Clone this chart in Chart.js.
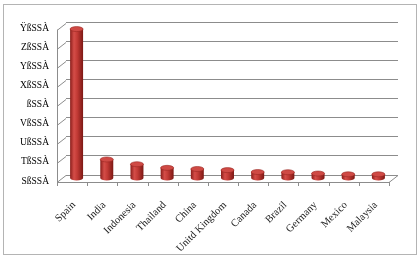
<!DOCTYPE html>
<html>
<head>
<meta charset="utf-8">
<script src="https://cdn.jsdelivr.net/npm/chart.js@4.4.1/dist/chart.umd.min.js"></script>
<style>
    html, body { margin: 0; padding: 0; background: #fff; }
    #wrap { width: 419px; height: 263px; }
</style>
</head>
<body>
<div id="wrap"><canvas id="chart" width="419" height="263"></canvas></div>
<script>
// Categories and values (percent share)
const countries = ["Spain", "India", "Indonesia", "Thailand", "China", "Unitd Kingdom",
    "Canada", "Brazil", "Germany", "Mexico", "Malaysia"];
const shares = [78.5, 10, 7.5, 5.6, 5.0, 4.4, 3.4, 3.3, 2.6, 2.2, 2.2];

// Y tick labels exactly as they appear (broken font mapping in the original)
const yTickLabels = ["SßSSÀ", "TßSSÀ", "UßSSÀ", "VßSSÀ", "ßSSÀ", "XßSSÀ", "YßSSÀ", "ZßSSÀ", "ŸßSSÀ"];

// Depth of the fake 3D walls
const depthX = 9;
const depthY = 7;

const gridColour = "#8c8c8c";

// Draws the frame, side wall, floor and the cylinder bars
const fake3d = {
    id: "fake3d",
    beforeDraw(chart) {
        const ctx = chart.ctx;
        ctx.save();
        ctx.fillStyle = "#fff";
        ctx.fillRect(0, 0, chart.width, chart.height);
        ctx.strokeStyle = "#b4b4b4";
        ctx.lineWidth = 1;
        ctx.strokeRect(3.5, 4.5, 413, 250);
        ctx.restore();
    },
    beforeDatasetsDraw(chart) {
        const ctx = chart.ctx;
        const area = chart.chartArea;
        const y = chart.scales.y;
        const fl = area.left - depthX; // front left
        const fr = area.right - depthX;
        const fb = area.bottom + depthY;

        ctx.save();
        ctx.strokeStyle = gridColour;
        ctx.lineWidth = 1;
        ctx.beginPath();
        // front vertical line of the side wall
        ctx.moveTo(fl + 0.5, area.top + depthY);
        ctx.lineTo(fl + 0.5, fb);
        // slanted ticks joining the gridlines
        y.ticks.forEach(function(t) {
            const py = Math.round(y.getPixelForValue(t.value)) + 0.5;
            ctx.moveTo(area.left, py);
            ctx.lineTo(fl, py + depthY);
        });
        // floor front edge and right edge
        ctx.moveTo(fl, fb + 0.5);
        ctx.lineTo(fr, fb + 0.5);
        ctx.lineTo(area.right, area.bottom + 0.5);
        // little ticks between categories
        const step = (area.right - area.left) / countries.length;
        for (let i = 0; i <= countries.length; i++) {
            const tx = Math.round(fl + i * step) + 0.5;
            ctx.moveTo(tx, fb);
            ctx.lineTo(tx, fb + 4);
        }
        ctx.stroke();
        ctx.restore();
    },
    afterDatasetsDraw(chart) {
        const ctx = chart.ctx;
        const meta = chart.getDatasetMeta(0);
        meta.data.forEach(function(bar) {
            const p = bar.getProps(["x", "y", "base", "width"], true);
            const cx = p.x - depthX / 2;
            const top = p.y + depthY / 2;
            const bottom = p.base + depthY / 2;
            const rx = p.width / 2;
            const ry = 2.5;

            const grad = ctx.createLinearGradient(cx - rx, 0, cx + rx, 0);
            grad.addColorStop(0, "#8a1d1a");
            grad.addColorStop(0.3, "#d44d48");
            grad.addColorStop(0.55, "#c23a35");
            grad.addColorStop(1, "#7c1814");

            ctx.save();
            ctx.beginPath();
            ctx.moveTo(cx - rx, top);
            ctx.lineTo(cx - rx, bottom);
            ctx.ellipse(cx, bottom, rx, ry, 0, Math.PI, 0, true);
            ctx.lineTo(cx + rx, top);
            ctx.closePath();
            ctx.fillStyle = grad;
            ctx.fill();

            // top cap
            ctx.beginPath();
            ctx.ellipse(cx, top, rx, ry, 0, 0, Math.PI * 2);
            ctx.fillStyle = "#cf4a45";
            ctx.fill();
            ctx.strokeStyle = "#9b2622";
            ctx.lineWidth = 0.6;
            ctx.stroke();
            ctx.restore();
        });
    }
};

const ctx = document.getElementById("chart").getContext("2d");
const chart = new Chart(ctx, {
    type: "bar",
    data: {
        labels: countries,
        datasets: [{
            data: shares,
            backgroundColor: "rgba(0,0,0,0)", // cylinders are drawn by the plugin
            borderWidth: 0,
            categoryPercentage: 1,
            barPercentage: 0.43
        }]
    },
    options: {
        responsive: false,
        animation: false,
        devicePixelRatio: 1,
        layout: {
            padding: { left: 0, right: 21, top: 18, bottom: 0 }
        },
        plugins: {
            legend: { display: false },
            tooltip: { enabled: false }
        },
        scales: {
            y: {
                min: 0,
                max: 80,
                afterFit: function(scale) { scale.width = 66; },
                ticks: {
                    stepSize: 10,
                    padding: 17,
                    labelOffset: 6,
                    color: "#000",
                    font: { family: "Liberation Serif", size: 9.5 },
                    callback: function(value, index) { return yTickLabels[index]; }
                },
                grid: { color: gridColour, drawTicks: false },
                border: { display: false }
            },
            x: {
                afterFit: function(scale) { scale.height = 88; },
                ticks: {
                    autoSkip: false,
                    minRotation: 45,
                    maxRotation: 45,
                    padding: 16,
                    labelOffset: -7,
                    color: "#222",
                    font: { family: "Liberation Serif", size: 10.5 }
                },
                grid: { display: false },
                border: { display: false }
            }
        }
    },
    plugins: [fake3d]
});
</script>
</body>
</html>
